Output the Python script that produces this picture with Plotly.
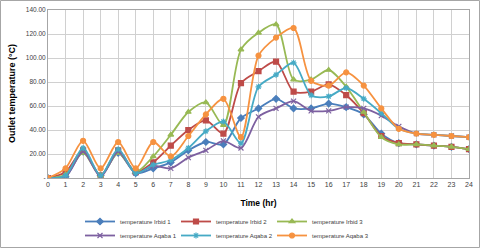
import plotly.graph_objects as go

hours = list(range(25))
irbid1 = [0, 1, 22, 2, 21, 4, 8, 13, 23, 30, 28, 50, 58, 66, 58, 58, 62, 59, 53, 37, 29, 28, 27, 26, 24]
irbid2 = [0, 5, 23, 2, 23, 5, 13, 27, 40, 48, 37, 79, 89, 97, 72, 72, 78, 69, 54, 35, 29, 28, 27, 26, 24]
irbid3 = [0, 3, 21, 2, 21, 5, 18, 36, 55, 63, 44, 107, 121, 128, 82, 82, 90, 76, 55, 34, 28, 28, 27, 26, 24]
aqaba1 = [0, 1, 22, 1, 22, 4, 10, 8, 17, 23, 31, 25, 51, 58, 64, 56, 56, 59, 58, 52, 43, 37, 36, 35, 34]
aqaba2 = [0, 2, 25, 2, 24, 4, 11, 15, 25, 39, 47, 29, 76, 86, 96, 69, 68, 75, 66, 54, 41, 37, 36, 35, 34]
aqaba3 = [0, 8, 31, 8, 30, 8, 30, 18, 35, 53, 66, 34, 102, 117, 125, 81, 77, 88, 77, 58, 41, 37, 36, 35, 34]

series = [
    ("temperature Irbid 1", irbid1, "#4A7EBB", "diamond"),
    ("temperature Irbid 2", irbid2, "#BE4B48", "square"),
    ("temperature Irbid 3", irbid3, "#98B954", "triangle-up"),
    ("temperature Aqaba 1", aqaba1, "#7D60A0", "x-thin"),
    ("temperature Aqaba 2", aqaba2, "#46AAC5", "asterisk"),
    ("temperature Aqaba 3", aqaba3, "#F69240", "circle"),
]

ytick_vals = [0, 20, 40, 60, 80, 100, 120, 140]
ytick_text = ["-", "20.00", "40.00", "60.00", "80.00", "100.00", "120.00", "140.00"]

fig = go.Figure()
legend_layout = {}
col_x = [80, 176, 272]
row_y = [207, 221]
for i, (name, vals, color, sym) in enumerate(series):
    lg = "legend" if i == 0 else f"legend{i + 1}"
    fig.add_trace(go.Scatter(
        x=hours, y=vals, name=name, mode="lines+markers", legend=lg,
        line=dict(color=color, width=1.8, shape="spline", smoothing=0.8),
        marker=dict(symbol=sym, size=5, color=color,
                    line=dict(color=color, width=1.2)),
    ))
    legend_layout[lg] = dict(
        orientation="v", xref="container", yref="container",
        x=col_x[i % 3] / 480, y=1 - row_y[i // 3] / 248,
        xanchor="left", yanchor="top",
        font=dict(size=6, color="#404040"), itemwidth=30,
        bgcolor="rgba(0,0,0,0)")

fig.update_layout(
    width=480, height=248,
    margin=dict(l=48, r=11, t=10, b=70, autoexpand=False),
    paper_bgcolor="white", plot_bgcolor="white",
    font=dict(family="Liberation Sans, Arial, sans-serif", size=7, color="#404040"),
    showlegend=True,
    shapes=[dict(type="rect", xref="paper", yref="paper",
                 x0=-47.5/421, x1=1+10.5/421, y0=-69.5/168, y1=1+9.5/168,
                 line=dict(color="#A6A6A6", width=1), fillcolor="rgba(0,0,0,0)")],
    annotations=[dict(text="<b>Outlet temperature (°C)</b>", textangle=-90,
                      xref="paper", yref="paper", x=-36 / 421, y=0.5,
                      xanchor="center", yanchor="middle", showarrow=False,
                      font=dict(size=9, color="#000000"))],
    **legend_layout,
)
fig.update_xaxes(
    range=[0, 24], tickmode="linear", dtick=1, tick0=0,
    showgrid=True, gridcolor="#D0D0D0", gridwidth=1,
    showline=True, linecolor="#A6A6A6", mirror=True, zeroline=False,
    ticks="", tickfont=dict(size=7, color="#404040"),
    title=dict(text="<b>Time (hr)</b>", font=dict(size=8.5, color="#000000"), standoff=12),
)
fig.update_yaxes(
    range=[0, 140], tickvals=ytick_vals, ticktext=ytick_text,
    showgrid=True, gridcolor="#D0D0D0", gridwidth=1,
    showline=True, linecolor="#A6A6A6", mirror=True, zeroline=False,
    ticks="", tickfont=dict(size=6.5, color="#404040"),
)

fig.write_html("out.html", config={"displayModeBar": False},
               post_script="document.body.style.margin='0';")
